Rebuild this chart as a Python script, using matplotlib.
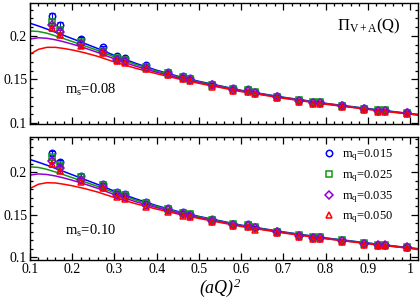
import matplotlib
matplotlib.use("Agg")
import matplotlib.pyplot as plt
from matplotlib.ticker import MultipleLocator

plt.rcParams['font.family'] = ['Liberation Serif', 'DejaVu Serif']
plt.rcParams['mathtext.fontset'] = 'custom'
plt.rcParams['mathtext.rm'] = 'Liberation Serif'
plt.rcParams['mathtext.it'] = 'Liberation Serif:italic'

# ---- data ----
xq = [0.151, 0.171, 0.221, 0.274, 0.307, 0.325, 0.375, 0.428, 0.462, 0.479, 0.531,
      0.582, 0.616, 0.633, 0.685, 0.736, 0.771, 0.787, 0.839, 0.890, 0.925, 0.941, 0.993]
err = [0.003, 0.0025, 0.002, 0.0015, 0.0012, 0.0012, 0.001, 0.001, 0.001, 0.001, 0.001,
       0.0008, 0.0008, 0.0008, 0.0008, 0.0008, 0.0008, 0.0008, 0.0008, 0.0008, 0.0008, 0.0008, 0.0008]

top_blue = [0.2227, 0.213, 0.1967, 0.187, 0.1766, 0.1747, 0.1666, 0.1588, 0.154, 0.152, 0.145,
            0.140, 0.1387, 0.136, 0.131, 0.1267, 0.1244, 0.1244, 0.1205, 0.1167, 0.115, 0.115, 0.1124]
top_green = [0.216, 0.207, 0.1928, 0.183, 0.174, 0.1725, 0.1645, 0.1573, 0.1527, 0.1505, 0.1438,
             0.139, 0.1378, 0.135, 0.1302, 0.126, 0.1237, 0.1237, 0.1198, 0.116, 0.1144, 0.1144, 0.1118]
top_purple = [0.212, 0.2044, 0.191, 0.182, 0.1725, 0.171, 0.1632, 0.1562, 0.1515, 0.1495, 0.143,
              0.1382, 0.137, 0.1342, 0.1295, 0.1253, 0.1231, 0.1231, 0.1192, 0.1155, 0.1139, 0.1139, 0.1113]
top_red = [0.2087, 0.2014, 0.188, 0.1805, 0.171, 0.169, 0.162, 0.155, 0.150, 0.148, 0.1418,
           0.137, 0.136, 0.133, 0.1285, 0.1245, 0.122, 0.122, 0.1183, 0.1148, 0.113, 0.113, 0.1106]

bot_blue = [0.2225, 0.2126, 0.1956, 0.186, 0.177, 0.174, 0.165, 0.1575, 0.153, 0.151, 0.1445,
            0.1395, 0.1385, 0.1355, 0.1305, 0.1262, 0.124, 0.124, 0.1202, 0.1165, 0.1148, 0.1148, 0.1122]
bot_green = [0.2178, 0.2087, 0.194, 0.185, 0.1755, 0.173, 0.164, 0.157, 0.1525, 0.1503, 0.144,
             0.139, 0.138, 0.135, 0.130, 0.1258, 0.1236, 0.1236, 0.1198, 0.1162, 0.1145, 0.1145, 0.112]
bot_purple = [0.2138, 0.2047, 0.1909, 0.183, 0.1735, 0.171, 0.162, 0.1555, 0.151, 0.149, 0.1428,
              0.138, 0.137, 0.134, 0.1292, 0.125, 0.1228, 0.1228, 0.119, 0.1155, 0.1138, 0.1138, 0.1113]
bot_red = [0.2095, 0.2016, 0.189, 0.181, 0.171, 0.169, 0.159, 0.1535, 0.149, 0.147, 0.141,
           0.1365, 0.1355, 0.1325, 0.128, 0.124, 0.1218, 0.1218, 0.118, 0.1145, 0.1128, 0.1128, 0.1104]

# fit curves
xc = [0.1, 0.12, 0.14, 0.16, 0.18, 0.2, 0.23, 0.26, 0.3, 0.35, 0.4, 0.45, 0.5,
      0.6, 0.7, 0.8, 0.9, 1.0, 1.02]
top_c_blue = [0.2145, 0.2113, 0.2078, 0.2042, 0.2005, 0.1968, 0.1912, 0.1855, 0.1775, 0.1685,
              0.1605, 0.1537, 0.1478, 0.1375, 0.1295, 0.1225, 0.1165, 0.1108, 0.1097]
top_c_green = [0.2056, 0.2050, 0.2030, 0.2000, 0.1968, 0.1935, 0.1885, 0.1833, 0.1758, 0.1672,
               0.1596, 0.1530, 0.1472, 0.1371, 0.1292, 0.1222, 0.1162, 0.1105, 0.1094]
top_c_purple = [0.1963, 0.1978, 0.1972, 0.1955, 0.1932, 0.1905, 0.1860, 0.1810, 0.1735, 0.1652,
                0.1582, 0.1520, 0.1464, 0.1366, 0.1288, 0.1219, 0.1159, 0.1103, 0.1092]
top_c_red = [0.1790, 0.1845, 0.1868, 0.1868, 0.1855, 0.1838, 0.1805, 0.1765, 0.1700, 0.1628,
             0.1565, 0.1508, 0.1455, 0.1360, 0.1283, 0.1215, 0.1156, 0.1101, 0.1090]

bot_c_blue = [0.2152, 0.2120, 0.2085, 0.2048, 0.2010, 0.1972, 0.1915, 0.1858, 0.1778, 0.1688,
              0.1607, 0.1539, 0.1480, 0.1377, 0.1297, 0.1226, 0.1166, 0.1109, 0.1098]
bot_c_green = [0.2066, 0.2058, 0.2036, 0.2005, 0.1972, 0.1938, 0.1887, 0.1835, 0.1760, 0.1674,
               0.1598, 0.1532, 0.1474, 0.1372, 0.1293, 0.1223, 0.1163, 0.1106, 0.1095]
bot_c_purple = [0.1968, 0.1982, 0.1975, 0.1958, 0.1934, 0.1907, 0.1862, 0.1812, 0.1737, 0.1654,
                0.1584, 0.1521, 0.1465, 0.1367, 0.1289, 0.1220, 0.1160, 0.1104, 0.1093]
bot_c_red = [0.1810, 0.1860, 0.1878, 0.1875, 0.1860, 0.1842, 0.1808, 0.1768, 0.1703, 0.1630,
             0.1566, 0.1509, 0.1456, 0.1361, 0.1284, 0.1216, 0.1157, 0.1102, 0.1091]

labels = ['m$_\\mathregular{q}$=0.015', 'm$_\\mathregular{q}$=0.025',
          'm$_\\mathregular{q}$=0.035', 'm$_\\mathregular{q}$=0.050']
colors = ['#0000ff', '#109a10', '#9400d3', '#ff0000']
markers = ['o', 's', 'D', '^']
msizes = [4.6, 3.8, 3.6, 4.4]

W, H = 420, 301
fig = plt.figure(figsize=(W / 100, H / 100), dpi=100)
ax1 = fig.add_axes([30 / W, 1 - 124 / H, 388 / W, 121 / H])
ax2 = fig.add_axes([30 / W, 1 - 260 / H, 388 / W, 123 / H])


def draw(ax, pts, curves, ylim):
    for c, col in zip(curves, colors):
        ax.plot(xc, c, color=col, lw=1.1, zorder=2)
    handles = []
    for p, col, m, ms, lab in zip(pts, colors, markers, msizes, labels):
        ax.errorbar(xq, p, yerr=err, fmt='none', ecolor=col, elinewidth=0.8,
                    capsize=2, capthick=0.8, zorder=3)
        h, = ax.plot(xq, p, linestyle='none', marker=m, ms=ms, mfc='none',
                     mec=col, mew=1.1, zorder=4, label=lab)
        handles.append(h)
    ax.set_xlim(0.1, 1.019)
    ax.set_ylim(*ylim)
    ax.xaxis.set_major_locator(MultipleLocator(0.1))
    ax.xaxis.set_minor_locator(MultipleLocator(0.02))
    ax.yaxis.set_major_locator(MultipleLocator(0.05))
    ax.yaxis.set_minor_locator(MultipleLocator(0.01))
    ax.tick_params(which='both', direction='in', top=True, right=True,
                   labelsize=10, width=0.9, pad=2)
    ax.tick_params(which='major', length=5)
    ax.tick_params(which='minor', length=2.5)
    for s in ax.spines.values():
        s.set_linewidth(1.0)
    ax.set_yticks([0.1, 0.15, 0.2])
    ax.set_yticklabels(['0.1', '0.15', '0.2'])
    return handles


draw(ax1, [top_blue, top_green, top_purple, top_red],
     [top_c_blue, top_c_green, top_c_purple, top_c_red], (0.0988, 0.2377))
hs = draw(ax2, [bot_blue, bot_green, bot_purple, bot_red],
          [bot_c_blue, bot_c_green, bot_c_purple, bot_c_red], (0.0965, 0.2418))

ax1.tick_params(labelbottom=False)
ax2.set_xticks([0.1, 0.2, 0.3, 0.4, 0.5, 0.6, 0.7, 0.8, 0.9, 1.0])
ax2.set_xticklabels(['0.1', '0.2', '0.3', '0.4', '0.5', '0.6', '0.7', '0.8', '0.9', '1'])

ax1.text(0.873, 0.81, '$\\Pi_\\mathregular{V+A}$(Q)', transform=ax1.transAxes,
         ha='center', va='center', fontsize=12)
ax1.text(0.09, 0.28, 'm$_\\mathregular{s}$=0.08', transform=ax1.transAxes,
         ha='left', va='center', fontsize=10.5)
ax2.text(0.09, 0.24, 'm$_\\mathregular{s}$=0.10', transform=ax2.transAxes,
         ha='left', va='center', fontsize=10.5)

leg = ax2.legend(handles=hs, loc='upper right', bbox_to_anchor=(0.955, 0.975),
                 frameon=False, fontsize=9, handlelength=1.0, handletextpad=0.5,
                 labelspacing=0.4, borderaxespad=0.2)

fig.text(220 / W, 1 - 288 / H, '(aQ)$^\\mathregular{2}$', ha='center', va='center',
         fontsize=13, style='italic')

fig.savefig('out.png', dpi=100)
